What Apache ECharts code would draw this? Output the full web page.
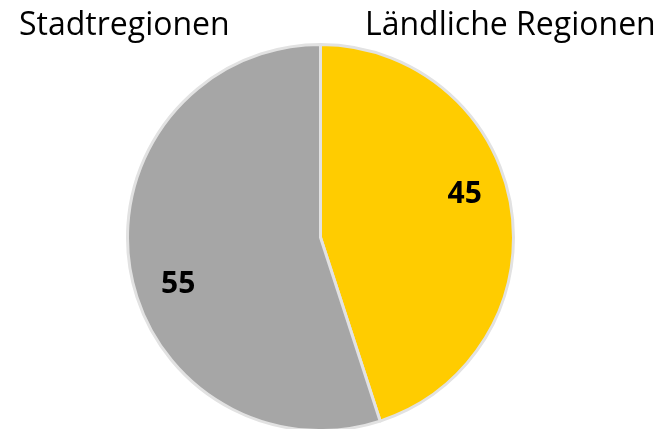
<!DOCTYPE html>
<html>
<head>
<meta charset="utf-8">
<script src="https://cdn.jsdelivr.net/npm/echarts@6/dist/echarts.min.js"></script>
<style>
  html, body { margin: 0; padding: 0; background: #fff; }
  #chart { width: 666px; height: 429px; }
</style>
</head>
<body>
<div id="chart"></div>
<script>
// slices, clockwise from 12 o'clock
var regionNames = ['Ländliche Regionen', 'Stadtregionen'];
var regionValues = [45, 55];
var regionColors = ['#FFCC00', '#A6A6A6'];
var labelOffsets = [[46, -27], [-44, 31]];

var chart = echarts.init(document.getElementById('chart'));

var pieData = regionNames.map(function (name, i) {
    return {
        name: name,
        value: regionValues[i],
        itemStyle: { color: regionColors[i] },
        label: { offset: labelOffsets[i] }
    };
});

var option = {
    animation: false,
    title: [
        {
            text: 'Stadtregionen',
            left: 14, top: 5,
            textStyle: { fontFamily: 'Open Sans', fontSize: 32, fontWeight: 'normal', color: '#000' }
        },
        {
            text: 'Ländliche Regionen',
            left: 360, top: 5,
            textStyle: { fontFamily: 'Open Sans', fontSize: 32, fontWeight: 'normal', color: '#000' }
        }
    ],
    series: [{
        type: 'pie',
        center: [320.5, 237.5],
        radius: 193,
        startAngle: 90,
        clockwise: true,
        itemStyle: { borderColor: '#e2e2e2', borderWidth: 3 },
        label: {
            show: true,
            position: 'inside',
            formatter: '{c}',
            fontFamily: 'Open Sans',
            fontSize: 30,
            fontWeight: 'bold',
            color: '#000'
        },
        labelLine: { show: false },
        emphasis: { disabled: true },
        data: pieData
    }]
};

chart.setOption(option);
</script>
</body>
</html>
